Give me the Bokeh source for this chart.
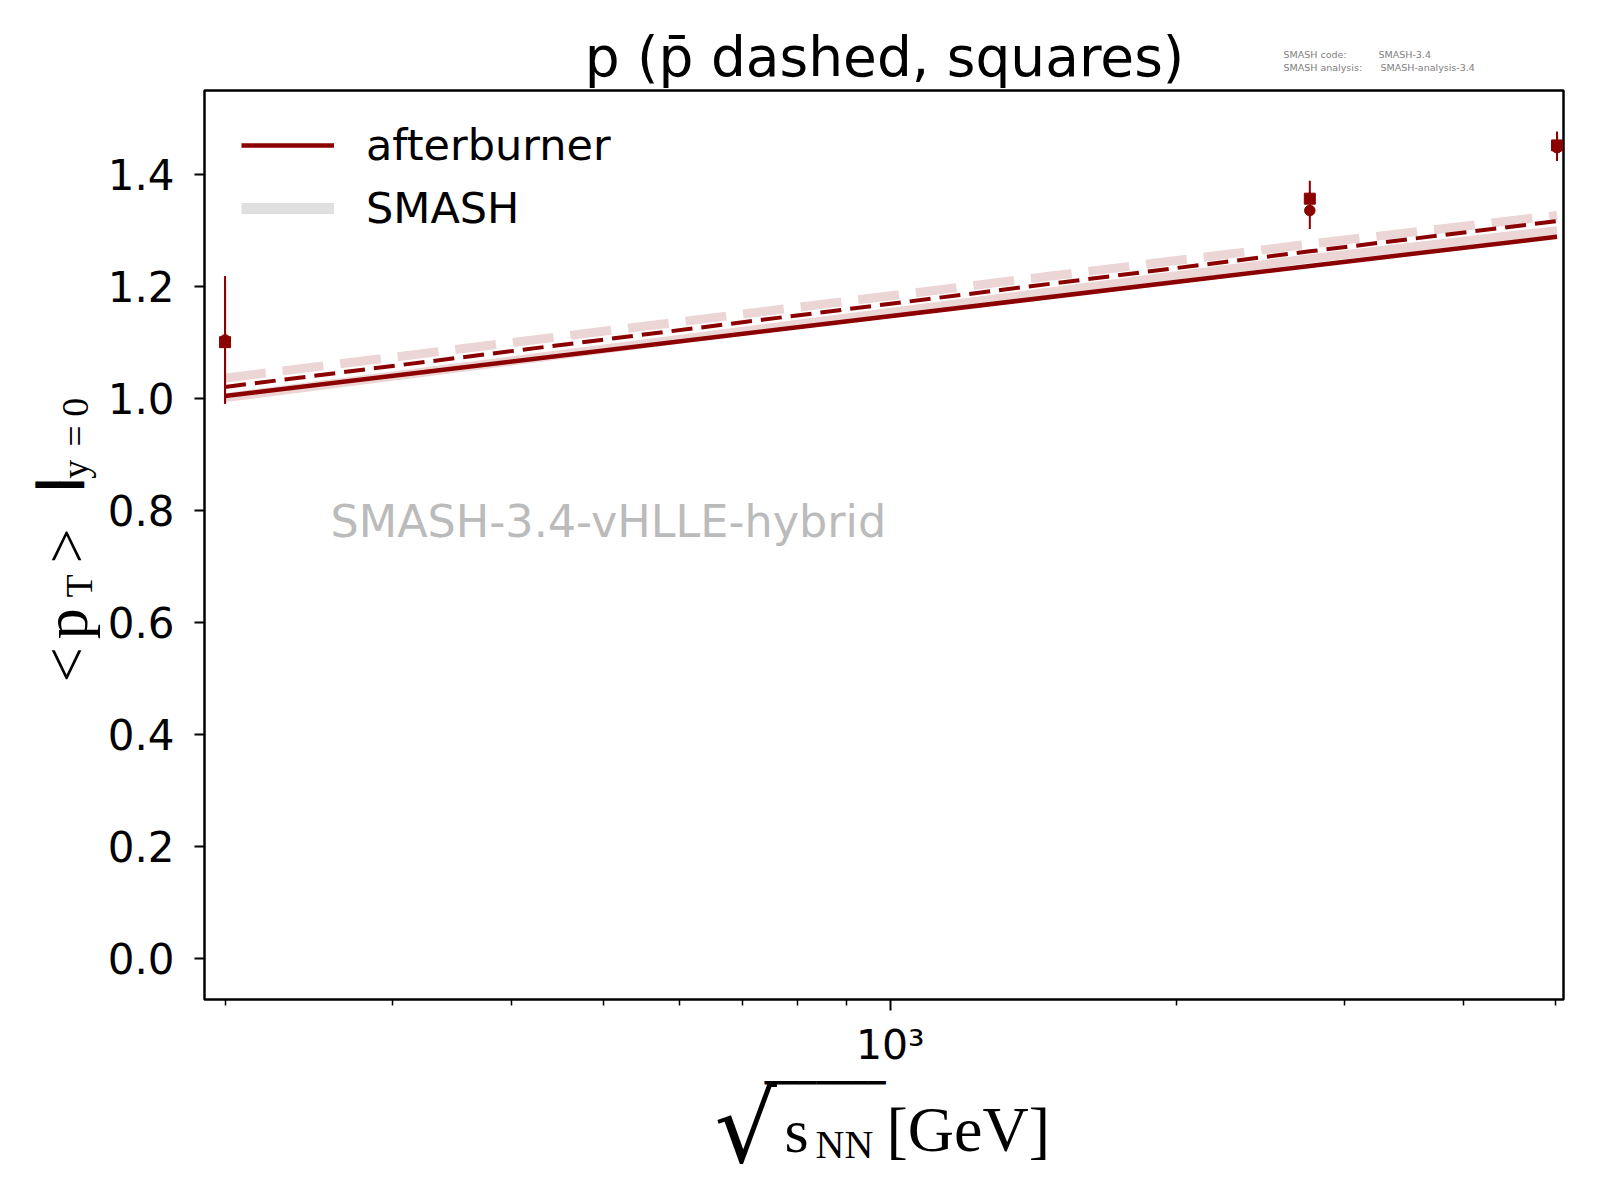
import math
from bokeh.plotting import figure
from bokeh.layouts import column, row
from bokeh.models import (Label, Legend, LegendItem, FixedTicker,
                          PrintfTickFormatter, ColumnDataSource, Range1d)
from bokeh.embed import file_html
from bokeh.resources import INLINE

# ---------------- data ----------------
energies = [200, 2760, 5020]                 # sqrt(s_NN) [GeV]
afterburner_p = [1.004, 1.236, 1.288]
afterburner_pbar = [1.020, 1.262, 1.316]
smash_p = [1.001, 1.249, 1.299]
smash_pbar = [1.036, 1.275, 1.326]
exp_p = [1.104, 1.335, 1.447]
exp_p_err = [0.114, 0.033, 0.024]
exp_pbar = [1.100, 1.356, 1.451]
exp_pbar_err = [0.110, 0.032, 0.025]

x_major_ticks = [1000]
x_major_labels = {1000: "10³"}
x_minor_ticks = [200, 300, 400, 500, 600, 700, 800, 900, 2000, 3000, 4000, 5000]
y_ticks = [0.0, 0.2, 0.4, 0.6, 0.8, 1.0, 1.2, 1.4]

# ---------------- layout (page pixels) ----------------
TOTAL_W, TOTAL_H = 1592, 1192
TOP_H = 89          # strip with title
LEFT_W = 100        # strip with y label
MAIN_W = TOTAL_W - LEFT_W
BL, BR, BT, BB = 104, 29, 1, 70
FW = MAIN_W - BL - BR          # 1359
FH = 911
MAIN_H = BT + FH + BB
BOTTOM_H = TOTAL_H - TOP_H - MAIN_H
FRAME_LEFT = LEFT_W + BL       # 204
FRAME_TOP = TOP_H + BT         # 90
MID = 0.346                    # baseline -> text middle, in em (DejaVu Sans)
MID_SERIF = 0.29               # same for Liberation Serif
BLOCK_TOP = 0.928              # top of a block element above the baseline, in em

X0, X1 = 190.3, 5099.0
Y0, Y1 = -0.073, 1.549

DARK = "#8b0000"
LIGHT = "#ebd5d5"
SERIF = "Liberation Serif"


def xd(px):
    l0, l1 = math.log10(X0), math.log10(X1)
    return 10 ** (l0 + (px - FRAME_LEFT) / FW * (l1 - l0))


def yd(py):
    return Y1 - (py - FRAME_TOP) / FH * (Y1 - Y0)


p = figure(width=MAIN_W, height=MAIN_H, x_axis_type="log",
           x_range=Range1d(X0, X1), y_range=Range1d(Y0, Y1),
           output_backend="svg", toolbar_location=None,
           min_border_left=BL, min_border_right=BR,
           min_border_top=BT, min_border_bottom=BB)
p.xgrid.visible = False
p.ygrid.visible = False
p.background_fill_color = "white"
p.border_fill_color = "white"
p.outline_line_color = "black"
p.outline_line_width = 2.5
p.outline_line_alpha = 1.0

# x axis
p.xaxis.ticker = FixedTicker(ticks=x_major_ticks, minor_ticks=x_minor_ticks)
p.xaxis.major_label_overrides = x_major_labels
p.xaxis.axis_line_color = None
p.xaxis.major_tick_in = 0
p.xaxis.major_tick_out = 11
p.xaxis.major_tick_line_width = 2
p.xaxis.minor_tick_in = 0
p.xaxis.minor_tick_out = 6
p.xaxis.minor_tick_line_width = 1.5
p.xaxis.major_label_text_font = "DejaVu Sans"
p.xaxis.major_label_text_font_size = "41px"
p.xaxis.major_label_text_color = "black"
p.xaxis.major_label_standoff = 10

# y axis
p.yaxis.ticker = FixedTicker(ticks=y_ticks)
p.yaxis.formatter = PrintfTickFormatter(format="%.1f")
p.yaxis.axis_line_color = None
p.yaxis.major_tick_in = 0
p.yaxis.major_tick_out = 10
p.yaxis.major_tick_line_width = 2
p.yaxis.minor_tick_line_color = None
p.yaxis.major_label_text_font = "DejaVu Sans"
p.yaxis.major_label_text_font_size = "42px"
p.yaxis.major_label_text_color = "black"
p.yaxis.major_label_standoff = 20

# ---------------- glyphs ----------------
src = ColumnDataSource(dict(
    x=energies,
    ab_p=afterburner_p, ab_pbar=afterburner_pbar,
    sm_p=smash_p, sm_pbar=smash_pbar,
    e_p=exp_p, e_p_lo=[v - e for v, e in zip(exp_p, exp_p_err)],
    e_p_hi=[v + e for v, e in zip(exp_p, exp_p_err)],
    e_pb=exp_pbar, e_pb_lo=[v - e for v, e in zip(exp_pbar, exp_pbar_err)],
    e_pb_hi=[v + e for v, e in zip(exp_pbar, exp_pbar_err)],
))

p.line("x", "sm_p", source=src, line_color=LIGHT, line_width=9)
p.line("x", "sm_pbar", source=src, line_color=LIGHT, line_width=9, line_dash="41 17")
r_ab = p.line("x", "ab_p", source=src, line_color=DARK, line_width=4.5)
p.line("x", "ab_pbar", source=src, line_color=DARK, line_width=4, line_dash="21 9")

p.segment(x0="x", y0="e_p_lo", x1="x", y1="e_p_hi", source=src, line_color=DARK, line_width=2)
p.segment(x0="x", y0="e_pb_lo", x1="x", y1="e_pb_hi", source=src, line_color=DARK, line_width=2)
p.scatter("x", "e_p", source=src, marker="circle", size=10.5, fill_color=DARK, line_color=DARK)
p.scatter("x", "e_pb", source=src, marker="square", size=11, fill_color=DARK, line_color=DARK)

# legend (SMASH entry drawn in grey, as in the reference); a one-point line
# draws nothing in the plot but gives the legend its glyph
leg_src = ColumnDataSource(dict(x=energies[:1], y=smash_p[:1]))
r_sm_leg = p.line("x", "y", source=leg_src, line_color="#dfdfdf", line_width=11)

legend = Legend(items=[LegendItem(label="afterburner", renderers=[r_ab]),
                       LegendItem(label="SMASH", renderers=[r_sm_leg])],
                location=(37, 765), padding=0, margin=0, spacing=11,
                glyph_width=93, glyph_height=52, label_height=52,
                label_standoff=32, label_text_font="DejaVu Sans",
                label_text_font_size="43px", label_text_color="black",
                border_line_color=None, background_fill_alpha=0)
p.add_layout(legend)


def label(fig, x, y, text, size, font="DejaVu Sans", color="black", angle=0,
          align="left", style="normal"):
    fig.add_layout(Label(x=x, y=y, text=text, text_font=font,
                         text_font_size=f"{size}px", text_color=color,
                         angle=angle, angle_units="deg", text_align=align,
                         text_baseline="middle", text_font_style=style,
                         background_fill_color=None, border_line_color=None))


def mid(font):
    return MID_SERIF if font == SERIF else MID


# horizontal text: (px, baseline py) -> middle anchor
label(p, xd(330), yd(537 - MID * 44.5), "SMASH-3.4-vHLLE-hybrid", 44.5, color="#bbbbbb")


def text_fig(w, h, y_range=None, **kw):
    f = figure(width=w, height=h, x_range=Range1d(0, w),
               y_range=y_range if y_range is not None else Range1d(0, h),
               x_axis_location=None, y_axis_location=None,
               toolbar_location=None, output_backend="svg",
               min_border_left=0, min_border_right=0, **kw)
    f.outline_line_color = None
    f.background_fill_color = "white"
    f.border_fill_color = "white"
    f.grid.visible = False
    return f


# ---- top strip: title and version info ----
top = text_fig(TOTAL_W, TOP_H, min_border_top=0, min_border_bottom=0)


def put_top(text, px, base, size, font="DejaVu Sans", **kw):
    label(top, px, TOP_H - (base - mid(font) * size), text, size, font=font, **kw)


put_top("p (p\u0304 dashed, squares)", 884, 76, 55, align="center")
put_top("SMASH code:", 1283, 57, 9.5, color="#808080")
put_top("SMASH-3.4", 1378, 57, 9.5, color="#808080")
put_top("SMASH analysis:", 1283, 70.5, 9.5, color="#808080")
put_top("SMASH-analysis-3.4", 1380, 70.5, 9.5, color="#808080")

# ---- left strip: y label  <p_T>|_{y=0}  (frame aligned with the main plot) ----
left = text_fig(LEFT_W, MAIN_H, y_range=p.y_range,
                min_border_top=BT, min_border_bottom=BB)


def put_left_rot(text, base_x, start_py, size, font=SERIF, **kw):
    label(left, base_x - mid(font) * size, yd(start_py), text, size,
          font=font, angle=90, **kw)


put_left_rot("<", 83, 683, 62)
put_left_rot("p", 83, 640, 62)
put_left_rot("T", 90, 598, 38)
put_left_rot(">", 83, 564, 62)
put_left_rot("y", 86, 479, 38)
put_left_rot("=", 86, 447, 38)
put_left_rot("0", 86, 417, 38)
# the tall "|" of the evaluation bar, lying across the rotated text
# (drawn last so that nothing covers it): stacked strokes, x 35..83, y 482..488
label(left, 35, yd(483.5), "\u2500\u2500", 40)
label(left, 35, yd(486.5), "\u2500\u2500", 40)

# ---- bottom strip: x label  sqrt(s_NN) [GeV] ----
bottom = text_fig(TOTAL_W, BOTTOM_H, min_border_top=0, min_border_bottom=0)


def put_bottom(text, px, base, size, font="DejaVu Sans", **kw):
    label(bottom, px, TOTAL_H - (base - mid(font) * size), text, size, font=font, **kw)


put_bottom("\u221a", 714, 1161, 98)
# radical's bar: upper one-eighth blocks whose top edge sits at y = 1080.5
BAR_SIZE = 22.5
label(bottom, 764, TOTAL_H - (1080.5 + (BLOCK_TOP - MID) * BAR_SIZE), "\u2594" * 7, BAR_SIZE)
put_bottom("s", 784, 1148, 62, font=SERIF)
put_bottom("NN", 815, 1156, 40, font=SERIF)
put_bottom("[GeV]", 886, 1148, 64, font=SERIF)

layout = column(top, row(left, p), bottom)
open("out.html", "w").write(file_html(layout, INLINE))
